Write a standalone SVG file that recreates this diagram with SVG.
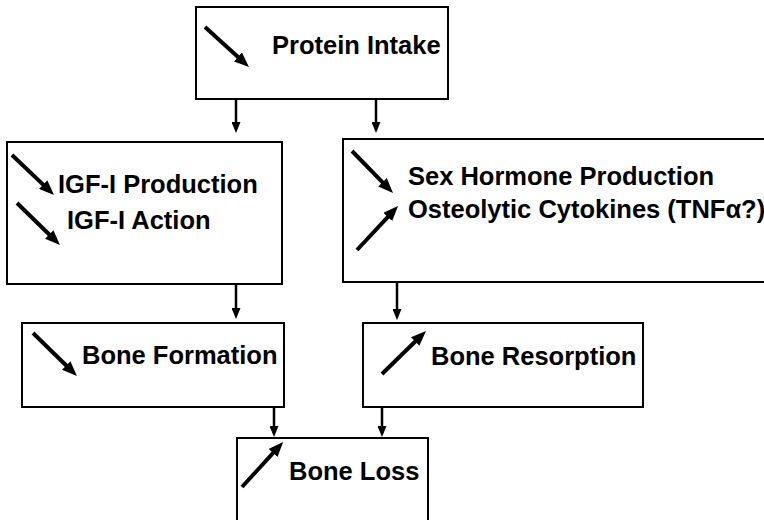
<svg xmlns="http://www.w3.org/2000/svg" width="764" height="520" viewBox="0 0 764 520">
<style>
.box{fill:#fff;stroke:#000;stroke-width:2}
.lbl{font-family:"Liberation Sans",Arial,sans-serif;font-weight:bold;font-size:25.5px;fill:#000}
.trend{stroke:#000;stroke-width:4;fill:none;marker-end:url(#trendHead)}
.conn{stroke:#000;stroke-width:2.5;fill:none;marker-end:url(#connHead)}
</style>
<defs>
<marker id="trendHead" markerUnits="userSpaceOnUse" viewBox="0 0 15 12" markerWidth="15" markerHeight="12" refX="5" refY="6" orient="auto">
<path d="M0,0 L15,6 L0,12 z" fill="#000"/>
</marker>
<marker id="connHead" markerUnits="userSpaceOnUse" viewBox="0 0 11 9" markerWidth="11" markerHeight="9" refX="7" refY="4.5" orient="auto">
<path d="M0,0 L11,4.5 L0,9 z" fill="#000"/>
</marker>
</defs>
<rect width="764" height="520" fill="#fff"/>
<g id="connectors">
<line class="conn" x1="236" y1="100" x2="236" y2="129"/>
<line class="conn" x1="376" y1="100" x2="376" y2="129"/>
<line class="conn" x1="236" y1="284" x2="236" y2="315"/>
<line class="conn" x1="397" y1="283" x2="397" y2="316"/>
<line class="conn" x1="274" y1="407" x2="274" y2="433"/>
<line class="conn" x1="382" y1="407" x2="382" y2="433"/>
</g>
<g id="protein-intake">
<rect class="box" x="196" y="7" width="252" height="92"/>
<line class="trend" x1="205" y1="27" x2="241.6" y2="60.3"/>
<text class="lbl" x="272" y="54">Protein Intake</text>
</g>
<g id="igf">
<rect class="box" x="7" y="142" width="275" height="142"/>
<line class="trend" x1="12" y1="155" x2="46.8" y2="188.1"/>
<line class="trend" x1="17" y1="203" x2="52.8" y2="238"/>
<text class="lbl" x="58" y="193">IGF-I Production</text>
<text class="lbl" x="67" y="229">IGF-I Action</text>
</g>
<g id="sex-hormone">
<rect class="box" x="343" y="139" width="430" height="143"/>
<line class="trend" x1="352" y1="151" x2="386" y2="185.8"/>
<line class="trend" x1="357" y1="250" x2="391.2" y2="213.3"/>
<text class="lbl" x="408" y="185">Sex Hormone Production</text>
<text class="lbl" x="408" y="218">Osteolytic Cytokines (TNFα?)</text>
</g>
<g id="bone-formation">
<rect class="box" x="22" y="323" width="262" height="84"/>
<line class="trend" x1="33" y1="333" x2="69.8" y2="369"/>
<text class="lbl" x="82" y="364">Bone Formation</text>
</g>
<g id="bone-resorption">
<rect class="box" x="363" y="323" width="280" height="84"/>
<line class="trend" x1="382" y1="374" x2="418.8" y2="338"/>
<text class="lbl" x="431" y="365">Bone Resorption</text>
</g>
<g id="bone-loss">
<rect class="box" x="237" y="438" width="191" height="100"/>
<line class="trend" x1="242" y1="487" x2="276.4" y2="449.3"/>
<text class="lbl" x="289" y="480">Bone Loss</text>
</g>
</svg>
